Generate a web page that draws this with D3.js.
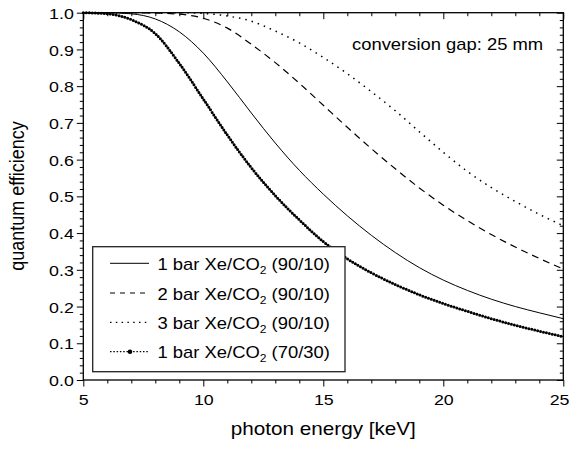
<!DOCTYPE html>
<html><head><meta charset="utf-8">
<script src="https://cdn.jsdelivr.net/npm/d3@7"></script>
<style>body{margin:0;background:#fff}text{font-family:"Liberation Sans",Arial,sans-serif;fill:#000}</style>
</head><body><svg id="c" width="570" height="449"></svg>
<script>
// ---- data ----
const energy = [5,6,7,8,9,10,11,12,13,14,15,16,17,18,19,20,21,22,23,24,25];
const eff1bar9010 = [1.000,1.000,0.997,0.983,0.948,0.890,0.812,0.727,0.645,0.571,0.506,0.447,0.394,0.347,0.306,0.272,0.244,0.220,0.200,0.183,0.167];
const eff2bar9010 = [1.000,1.000,1.000,0.999,0.996,0.985,0.958,0.914,0.864,0.808,0.748,0.688,0.630,0.575,0.523,0.476,0.434,0.396,0.362,0.331,0.302];
const eff3bar9010 = [1.000,1.000,1.000,1.000,1.000,0.998,0.991,0.977,0.950,0.918,0.878,0.834,0.785,0.733,0.676,0.620,0.568,0.524,0.486,0.451,0.420];
const eff1bar7030 = [1.000,0.997,0.981,0.943,0.862,0.765,0.667,0.578,0.502,0.436,0.377,0.330,0.292,0.260,0.232,0.208,0.187,0.167,0.149,0.133,0.118];
const legendPressure = ["1 bar","2 bar","3 bar","1 bar"];
const legendMix = ["(90/10)","(90/10)","(90/10)","(70/30)"];
const xMajorTicks = [5,10,15,20,25];
const xMinorTicks = [6,7,8,9,11,12,13,14,16,17,18,19,21,22,23,24];
const yMajorTicks = [0,0.1,0.2,0.3,0.4,0.5,0.6,0.7,0.8,0.9,1.0];
const yMinorTicks = d3.range(0,51).map(i=>i/50).filter((v,i)=>i%5!==0);
const xTitle = "photon energy [keV]";
const yTitle = "quantum efficiency";
const note = "conversion gap: 25 mm";

// ---- layout ----
const SX = 1.15; // horizontal text stretch seen in reference
const L=83.3, R=563.3, T=12.7, B=380, W=570;
const svg = d3.select("#c");
const x = d3.scaleLinear().domain([5,25]).range([L,R]);
const y = d3.scaleLinear().domain([0,1]).range([B,T]);

// curves
const line = d3.line().x((d,i)=>x(energy[i])).y(d=>y(d)).curve(d3.curveMonotoneX);
const styles = [
  {data:eff1bar9010, w:1, dash:null},
  {data:eff2bar9010, w:1.2, dash:"7 5"},
  {data:eff3bar9010, w:1.5, dash:"1.5 5"},
];
styles.forEach(s=>{
  svg.append("path").attr("d",line(s.data)).attr("fill","none").attr("stroke","#000")
    .attr("stroke-width",s.w).attr("stroke-dasharray",s.dash);
});
svg.append("path").attr("d",line(eff1bar7030)).attr("fill","none").attr("stroke","#000")
  .attr("stroke-width",3).attr("stroke-linecap","round").attr("stroke-dasharray","0 3");

// axes
function styleAxis(g){ g.select(".domain").remove(); g.selectAll("line").attr("stroke","#000").attr("stroke-width",1); }
svg.append("g").attr("transform",`translate(${L},0)`).call(d3.axisLeft(y).tickValues(yMinorTicks).tickSize(3.5).tickFormat("")).call(styleAxis);
svg.append("g").attr("transform",`translate(${L},0)`).call(d3.axisLeft(y).tickValues(yMajorTicks).tickSize(6.5).tickFormat(d3.format(".1f"))).call(styleAxis)
  .selectAll("text").attr("x",null).attr("dy",null).attr("font-size",15.5).attr("text-anchor","end")
  .attr("transform",`translate(-9.5,5.6) scale(${SX},1)`);
svg.append("g").attr("transform",`translate(${R},0)`).call(d3.axisRight(y).tickValues(yMinorTicks).tickSize(-3.5).tickFormat("")).call(styleAxis);
svg.append("g").attr("transform",`translate(${R},0)`).call(d3.axisRight(y).tickValues(yMajorTicks).tickSize(-6.5).tickFormat("")).call(styleAxis);
svg.append("g").attr("transform",`translate(0,${B})`).call(d3.axisBottom(x).tickValues(xMinorTicks).tickSize(3.5).tickFormat("")).call(styleAxis);
svg.append("g").attr("transform",`translate(0,${B})`).call(d3.axisBottom(x).tickValues(xMajorTicks).tickSize(6.5).tickFormat(d3.format("d"))).call(styleAxis)
  .selectAll("text").attr("y",null).attr("dy",null).attr("font-size",15.5)
  .attr("text-anchor",d=>x(d)+10>W?"end":"middle")
  .attr("transform",d=>x(d)+10>W?`translate(${W-1-x(d)},24.5) scale(${SX},1)`:`translate(0,24.5) scale(${SX},1)`);
svg.append("g").attr("transform",`translate(0,${T})`).call(d3.axisTop(x).tickValues(xMinorTicks).tickSize(-3.5).tickFormat("")).call(styleAxis);
svg.append("g").attr("transform",`translate(0,${T})`).call(d3.axisTop(x).tickValues(xMajorTicks).tickSize(-6.5).tickFormat("")).call(styleAxis);
svg.append("rect").attr("x",L).attr("y",T).attr("width",R-L).attr("height",B-T)
  .attr("fill","none").attr("stroke","#000").attr("stroke-width",1.3);

// titles
svg.append("text").attr("font-size",18).attr("text-anchor","middle")
  .attr("transform",`translate(${(L+R)/2},435) scale(${SX},1)`).text(xTitle);
svg.append("text").attr("font-size",18).attr("text-anchor","middle")
  .attr("transform",`translate(24,196) rotate(-90) scale(1,${SX})`).text(yTitle);
svg.append("text").attr("font-size",16).attr("text-anchor","start")
  .attr("transform",`translate(352,50) scale(${SX},1)`).text(note);

// legend
const lg = svg.append("g");
lg.append("rect").attr("x",92.7).attr("y",246.7).attr("width",345-92.7).attr("height",371.7-246.7)
  .attr("fill","#fff").attr("stroke","#222").attr("stroke-width",1.3);
const rowY = [263.3,293,322.3,351.7];
const legDash = [null,"5 5","1.5 4.3","1.5 1.8"];
const legW = [1,1.1,1.3,1.3];
legendPressure.forEach((p,i)=>{
  lg.append("line").attr("x1",110).attr("x2",149).attr("y1",rowY[i]).attr("y2",rowY[i])
    .attr("stroke","#000").attr("stroke-width",legW[i]).attr("stroke-dasharray",legDash[i]);
  if(i===3) lg.append("circle").attr("cx",130).attr("cy",rowY[i]).attr("r",2.3).attr("fill","#000");
  const t = lg.append("text").attr("font-size",16).attr("transform",`translate(157.5,${rowY[i]+6.5}) scale(${SX},1)`);
  t.append("tspan").text(p+" Xe/CO");
  t.append("tspan").attr("font-size",10.5).attr("dy",4).text("2");
  t.append("tspan").attr("dy",-4).text(" "+legendMix[i]);
});
</script></body></html>
